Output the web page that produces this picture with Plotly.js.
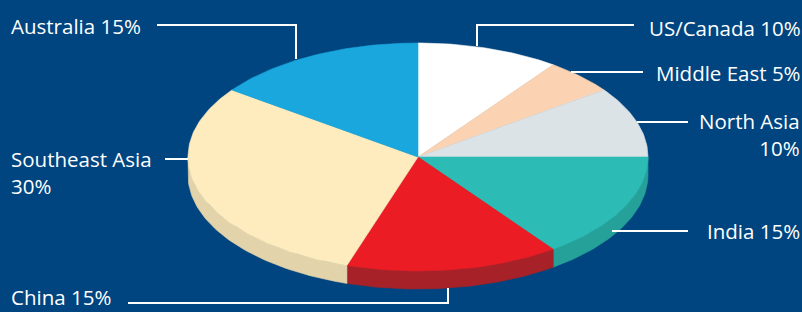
<!DOCTYPE html>
<html>
<head>
<meta charset="utf-8">
<script src="https://cdn.plot.ly/plotly-3.0.1.min.js"></script>
<style>
  html, body { margin: 0; padding: 0; background: #00457f; }
  #chart { width: 802px; height: 312px; }
</style>
</head>
<body>
<div id="chart"></div>
<script>
// ---- data ----
const categories = ['US/Canada', 'Middle East', 'North Asia', 'India', 'China', 'Southeast Asia', 'Australia'];
const shares = [10, 5, 10, 15, 15, 30, 15];
const topColors = ['#ffffff', '#fcd3b2', '#dce3e7', '#2cbcb5', '#ec1c24', '#feecbe', '#1aa7de'];
const sideColors = ['#d9d9d9', '#d6b396', '#b9c0c4', '#26a19a', '#a62228', '#e2d3aa', '#168dbc'];

// ---- geometry / layout (pixels in the 802x312 frame) ----
const W = 802, H = 312;
const CX = 418, CY = 157, RX = 230, RY = 114, DEPTH = 18;
const BG = '#00457f';
// label placement
const labelPos = {
  'US/Canada':      { x: 648, y: 28,  anchor: 'left',  br: false },
  'Middle East':    { x: 655, y: 73,  anchor: 'left',  br: false },
  'North Asia':     { x: 801, y: 134, anchor: 'right', br: true, align: 'right' },
  'India':          { x: 706, y: 231, anchor: 'left',  br: false },
  'China':          { x: 10,  y: 297, anchor: 'left',  br: false },
  'Southeast Asia': { x: 10,  y: 172, anchor: 'left',  br: true, align: 'left' },
  'Australia':      { x: 10,  y: 26,  anchor: 'left',  br: false }
};
const leaders = {
  'US/Canada':      [[634, 25], [477, 25], [477, 46]],
  'Middle East':    [[571, 72], [643, 72]],
  'North Asia':     [[637, 122], [688, 122]],
  'India':          [[612, 231], [688, 231]],
  'China':          [[128, 303], [448, 303], [448, 288]],
  'Southeast Asia': [[165, 159], [188, 159]],
  'Australia':      [[157, 25], [296, 25], [296, 59]]
};

const total = shares.reduce((a, b) => a + b, 0);
const D = DEPTH / RY;
const traces = [];
const tops = [];
let cum = 0;
shares.forEach((v, i) => {
  const a0 = cum / total * 2 * Math.PI;
  cum += v;
  const a1 = cum / total * 2 * Math.PI;
  // top wedge
  const xs = [0], ys = [0];
  const n = Math.max(8, Math.ceil((a1 - a0) / (Math.PI / 180)));
  for (let k = 0; k <= n; k++) {
    const t = a0 + (a1 - a0) * k / n;
    xs.push(Math.sin(t)); ys.push(Math.cos(t));
  }
  xs.push(0); ys.push(0);
  tops.push({
    type: 'scatter', mode: 'lines', x: xs, y: ys, fill: 'toself',
    fillcolor: topColors[i], line: { color: topColors[i], width: 0.6 },
    hoverinfo: 'text', text: categories[i] + ' ' + v + '%', showlegend: false
  });
  // side band (only the front half is visible)
  const s0 = Math.max(a0, Math.PI / 2), s1 = Math.min(a1, 3 * Math.PI / 2);
  if (s0 < s1) {
    const sx = [], sy = [];
    const m = Math.max(4, Math.ceil((s1 - s0) / (Math.PI / 180)));
    for (let k = 0; k <= m; k++) {
      const t = s0 + (s1 - s0) * k / m;
      sx.push(Math.sin(t)); sy.push(Math.cos(t));
    }
    for (let k = m; k >= 0; k--) {
      const t = s0 + (s1 - s0) * k / m;
      sx.push(Math.sin(t)); sy.push(Math.cos(t) - D);
    }
    sx.push(sx[0]); sy.push(sy[0]);
    traces.push({
      type: 'scatter', mode: 'lines', x: sx, y: sy, fill: 'toself',
      fillcolor: sideColors[i], line: { color: sideColors[i], width: 0.6 },
      hoverinfo: 'skip', showlegend: false
    });
  }
});
tops.forEach(t => traces.push(t));

const px = x => x / W, py = y => 1 - y / H;
const font = { family: 'Open Sans, sans-serif', size: 20.5, color: '#ffffff' };
const annotations = categories.map((c, i) => {
  const p = labelPos[c];
  return {
    xref: 'paper', yref: 'paper', x: px(p.x), y: py(p.y),
    xanchor: p.anchor, yanchor: 'middle', align: p.align || p.anchor,
    text: c + (p.br ? '<br>' : ' ') + shares[i] + '%',
    showarrow: false, font: font, borderpad: 0
  };
});
const shapes = categories.map(c => {
  const pts = leaders[c];
  return { type: 'path', xref: 'paper', yref: 'paper',
    path: 'M' + pts.map(p => px(p[0]) + ',' + py(p[1])).join(' L'),
    line: { color: '#ffffff', width: 2 }, layer: 'above' };
});

const layout = {
  width: W, height: H,
  margin: { l: 0, r: 0, t: 0, b: 0 },
  paper_bgcolor: BG, plot_bgcolor: BG,
  xaxis: { range: [-CX / RX, (W - CX) / RX], visible: false, fixedrange: true },
  yaxis: { range: [-(H - CY) / RY, CY / RY], visible: false, fixedrange: true },
  annotations: annotations,
  shapes: shapes,
  showlegend: false,
  hovermode: 'closest'
};
Plotly.newPlot('chart', traces, layout, { displayModeBar: false });
</script>
</body>
</html>
